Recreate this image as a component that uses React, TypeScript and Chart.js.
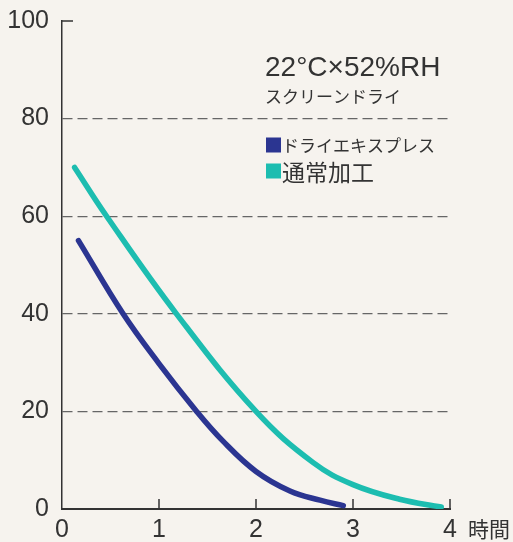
import React, { useEffect, useRef } from "react";
import { Chart, registerables } from "chart.js";

Chart.register(...registerables);

const hoursDry = [0.17, 0.63, 1.0, 1.38, 1.66, 2.0, 2.35, 2.66, 2.9];
const moistureDry = [55, 40, 29.8, 20.2, 13.9, 7.7, 3.7, 1.8, 0.7];
const hoursStd = [0.13, 0.46, 1.18, 2.0, 2.59, 3.0, 3.48, 3.91];
const moistureStd = [70, 60, 40, 20, 9.5, 5, 2, 0.4];

const seriesLabels = ["ドライエキスプレス", "通常加工"];
const seriesColors = ["#2b3591", "#1dbdb0"];
const conditionTitle = "22°C×52%RH";
const conditionSub = "スクリーンドライ";
const xUnit = "時間";
const yTicks = [0, 20, 40, 60, 80, 100];
const xTicks = [0, 1, 2, 3, 4];

const LATIN = "'Liberation Sans', Arial, sans-serif";
const CJK = "'Noto Sans CJK JP', sans-serif";

const decorPlugin = {
  id: "decor",
  afterDraw(chart: any) {
    const ctx = chart.ctx;
    const xs = chart.scales.x;
    const ys = chart.scales.y;
    const area = chart.chartArea;
    ctx.save();
    ctx.strokeStyle = "#333";
    ctx.lineWidth = 1.5;
    xTicks.forEach((v) => {
      if (v === 0) return;
      const px = xs.getPixelForValue(v);
      ctx.beginPath();
      ctx.moveTo(px, area.bottom);
      ctx.lineTo(px, area.bottom - 10);
      ctx.stroke();
    });
    const ty = ys.getPixelForValue(yTicks[yTicks.length - 1]);
    ctx.beginPath();
    ctx.moveTo(area.left, ty);
    ctx.lineTo(area.left + 11, ty);
    ctx.stroke();

    ctx.fillStyle = "#333";
    ctx.font = `21px ${CJK}`;
    ctx.textBaseline = "middle";
    ctx.textAlign = "left";
    ctx.fillText(xUnit, xs.getPixelForValue(4) + 18, area.bottom + 20);

    const lx = area.left + 203;
    ctx.font = `28px ${LATIN}`;
    ctx.textBaseline = "alphabetic";
    ctx.fillText(conditionTitle, lx, 76);
    ctx.font = `17px ${CJK}`;
    ctx.fillText(conditionSub, lx, 103);

    const legendSizes = [17, 23];
    chart.data.datasets.forEach((ds: any, i: number) => {
      const cy = 145 + i * 26;
      ctx.fillStyle = ds.borderColor;
      ctx.fillRect(lx + 1, cy - 7.5, 15, 15);
      ctx.fillStyle = "#333";
      ctx.font = `${legendSizes[i]}px ${CJK}`;
      ctx.textBaseline = "middle";
      ctx.fillText(ds.label, lx + 17, cy + 1);
    });
    ctx.restore();
  },
};

export default function App() {
  const canvasRef = useRef<HTMLCanvasElement | null>(null);

  useEffect(() => {
    document.body.style.margin = "0";
    document.body.style.background = "#f6f3ee";
    const canvas = canvasRef.current;
    if (!canvas) return;
    const chart = new Chart(canvas, {
      type: "line",
      data: {
        datasets: [
          {
            label: seriesLabels[0],
            data: hoursDry.map((x, i) => ({ x, y: moistureDry[i] })),
            borderColor: seriesColors[0],
            backgroundColor: seriesColors[0],
            borderWidth: 5.5,
            borderCapStyle: "round",
            pointRadius: 0,
            tension: 0.4,
          },
          {
            label: seriesLabels[1],
            data: hoursStd.map((x, i) => ({ x, y: moistureStd[i] })),
            borderColor: seriesColors[1],
            backgroundColor: seriesColors[1],
            borderWidth: 5.5,
            borderCapStyle: "round",
            pointRadius: 0,
            tension: 0.4,
          },
        ],
      },
      options: {
        animation: false,
        responsive: false,
        maintainAspectRatio: false,
        layout: { padding: { top: 21, right: 63, left: 0, bottom: 0 } },
        plugins: { legend: { display: false }, tooltip: { enabled: false } },
        scales: {
          x: {
            type: "linear",
            min: 0,
            max: 4,
            afterFit: (s: any) => {
              s.height = 33;
              s.paddingLeft = 0;
              s.paddingRight = 0;
            },
            afterBuildTicks: (s: any) => {
              s.ticks = xTicks.map((v) => ({ value: v }));
            },
            ticks: {
              font: { family: LATIN, size: 25 },
              color: "#333",
              padding: 6,
            },
            grid: { display: false, drawTicks: false },
            border: { display: true, color: "#333", width: 2 },
          },
          y: {
            min: 0,
            max: 100,
            afterFit: (s: any) => {
              s.width = 62;
              s.paddingTop = 0;
              s.paddingBottom = 0;
            },
            afterBuildTicks: (s: any) => {
              s.ticks = yTicks.map((v) => ({ value: v }));
            },
            ticks: {
              font: { family: LATIN, size: 25 },
              color: "#333",
              padding: 13,
            },
            grid: {
              drawTicks: false,
              color: (c: any) =>
                c.tick && (c.tick.value === 0 || c.tick.value === 100) ? "rgba(0,0,0,0)" : "#666",
              lineWidth: 1.3,
            },
            border: { display: true, color: "#333", width: 1.5, dash: [10, 5] },
          },
        },
      },
      plugins: [decorPlugin],
    } as any);
    return () => chart.destroy();
  }, []);

  return (
    <div style={{ width: 513, height: 542, background: "#f6f3ee" }}>
      <canvas ref={canvasRef} width={513} height={542} />
    </div>
  );
}
